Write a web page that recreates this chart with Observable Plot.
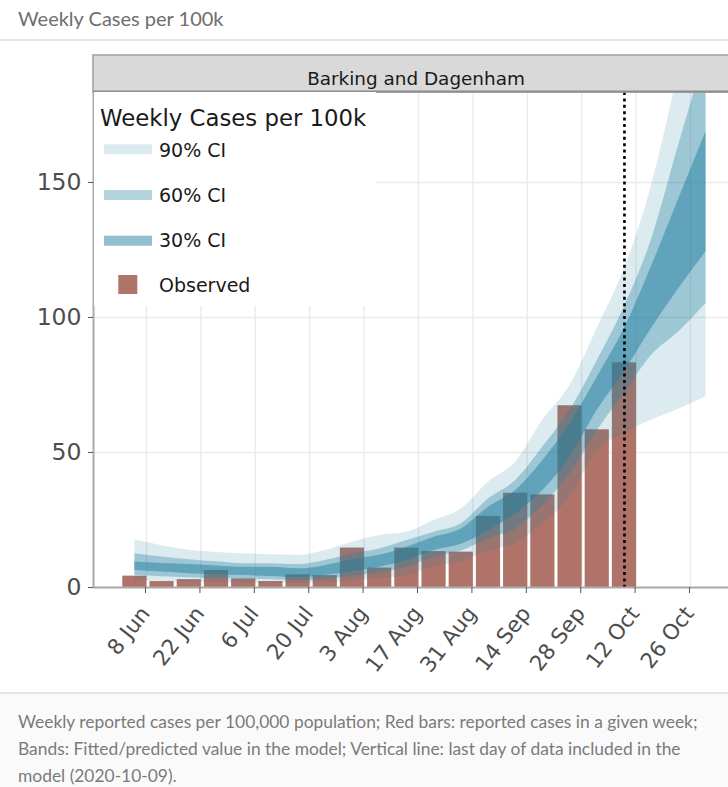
<!DOCTYPE html>
<html><head><meta charset="utf-8">
<script src="https://cdn.jsdelivr.net/npm/d3@7"></script>
<script src="https://cdn.jsdelivr.net/npm/@observablehq/plot@0.6"></script>
<style>
html,body{margin:0;padding:0;background:#fff;}
body{width:728px;height:787px;overflow:hidden;position:relative;}
#hdr{border-bottom:2px solid #e6e6e6;font-family:Lato,sans-serif;font-size:20px;color:#6e6e6e;padding-left:18px;line-height:36px;box-sizing:border-box;height:41px;}
#chart{height:651px;}
#chart svg{display:block;}
#cap{position:absolute;left:0;top:692px;width:728px;height:95px;box-sizing:border-box;border-top:2px solid #e6e6e6;background:#fafafa;font-family:Lato,sans-serif;font-size:17.4px;color:#7a7a7a;padding:15px 14px 0 18px;line-height:26.8px;}
</style></head><body>
<div id="hdr">Weekly Cases per 100k</div>
<div id="chart"></div>
<div id="cap">Weekly reported cases per 100,000 population; Red bars: reported cases in a given week; Bands: Fitted/predicted value in the model; Vertical line: last day of data included in the model (2020-10-09).</div>
<script>
// ---- data ----
const areaName = "Barking and Dagenham";
const barDates = ["2020-06-05","2020-06-12","2020-06-19","2020-06-26","2020-07-03","2020-07-10","2020-07-17","2020-07-24","2020-07-31","2020-08-07","2020-08-14","2020-08-21","2020-08-28","2020-09-04","2020-09-11","2020-09-18","2020-09-25","2020-10-02","2020-10-09"];
const observed = [4.2, 2.2, 2.9, 6.3, 3.2, 2.2, 4.7, 4.4, 14.6, 7.2, 14.6, 13.3, 13.1, 26.3, 34.9, 34.3, 67.3, 58.4, 83.2];

const bandDates = ["2020-06-05","2020-06-12","2020-06-19","2020-06-26","2020-07-03","2020-07-10","2020-07-17","2020-07-24","2020-07-31","2020-08-07","2020-08-14","2020-08-21","2020-08-28","2020-09-04","2020-09-11","2020-09-18","2020-09-25","2020-10-02","2020-10-09","2020-10-16","2020-10-23","2020-10-30"];
const hi90 = [17.7, 15.5, 13.8, 13.0, 12.5, 12.1, 11.9, 13.7, 16.8, 19.3, 20.5, 24.8, 29.1, 39.0, 46.4, 62.0, 74.8, 96.0, 118, 149, 192, 240];
const hi60 = [12.5, 11.3, 10.3, 9.5, 8.8, 8.8, 8.5, 10.0, 12.5, 14.3, 17.4, 20.5, 23.6, 32.8, 39.6, 52.0, 65.6, 84.0, 104, 129, 164, 198];
const hi30 = [9.4, 8.9, 8.5, 8.0, 7.5, 7.5, 6.9, 8.1, 10.3, 11.9, 14.9, 18.6, 21.7, 29.7, 35.9, 47.0, 60.6, 77.9, 96, 119, 144, 168.8];
const lo30 = [6.3, 5.7, 5.1, 4.7, 4.4, 4.1, 3.6, 4.4, 5.9, 7.5, 10.0, 13.7, 16.0, 21.0, 27.3, 35.9, 48.3, 65.6, 80, 96, 110.7, 124.3];
const lo60 = [4.5, 4.0, 3.6, 3.3, 3.1, 2.9, 2.6, 3.1, 4.2, 5.4, 7.5, 11.2, 13.5, 18.0, 21.7, 30.4, 42.1, 58.0, 72, 86, 94.7, 105.2];
const lo90 = [2.5, 2.2, 2.0, 1.8, 1.7, 1.6, 1.5, 1.8, 2.4, 3.2, 4.4, 7.5, 9.5, 13.5, 16.3, 23.6, 33.5, 50.7, 57, 62, 66, 70.6];

const tickDates = ["2020-06-08","2020-06-22","2020-07-06","2020-07-20","2020-08-03","2020-08-17","2020-08-31","2020-09-14","2020-09-28","2020-10-12","2020-10-26"];
const tickLabels = ["8 Jun","22 Jun","6 Jul","20 Jul","3 Aug","17 Aug","31 Aug","14 Sep","28 Sep","12 Oct","26 Oct"];
const yTicks = [0, 50, 100, 150];
const lastDataDay = "2020-10-09";

const ciLabels = ["90% CI", "60% CI", "30% CI"];
const ciOpacity = [0.16, 0.34, 0.5];
const bandColor = "#24809f";
const barColor = "#b07369";

// ---- build ----
const D = s => new Date(s + "T00:00:00Z");
const DAY = 864e5;
const bars = barDates.map((d, i) => ({x1: new Date(+D(d) - 3.5 * DAY), x2: new Date(+D(d) + 3.5 * DAY), y: observed[i]}));
const bands = bandDates.map((d, i) => ({date: D(d), hi90: hi90[i], hi60: hi60[i], hi30: hi30[i], lo30: lo30[i], lo60: lo60[i], lo90: lo90[i]}));
const ticks = tickDates.map(D);
const labelOf = new Map(ticks.map((t, i) => [+t, tickLabels[i]]));

const W = 728, H = 651, mL = 93, mR = 0, mT = 51, mB = 105;
const xDomain = [new Date(Date.UTC(2020, 4, 25, 8, 24)), new Date(Date.UTC(2020, 10, 4, 18, 43))];
const yMax = 183.3;
const FONT = "DejaVu Sans, Verdana, sans-serif";

const plot = Plot.plot({
  width: W, height: H,
  marginLeft: mL, marginRight: mR, marginTop: mT, marginBottom: mB,
  style: {background: "transparent", fontFamily: FONT},
  x: {type: "utc", domain: xDomain},
  y: {domain: [0, yMax]},
  marks: [
    Plot.gridY(yTicks.filter(d => d > 0), {stroke: "#ebebeb", strokeOpacity: 1, strokeWidth: 1.4}),
    Plot.gridX(ticks, {stroke: "#ebebeb", strokeOpacity: 1, strokeWidth: 1.4}),
    Plot.rectY(bars, {x1: "x1", x2: "x2", y: "y", fill: barColor, insetLeft: 1.5, insetRight: 1.5}),
    Plot.areaY(bands, {x: "date", y1: "lo90", y2: "hi90", fill: bandColor, fillOpacity: ciOpacity[0], curve: "monotone-x", clip: true}),
    Plot.areaY(bands, {x: "date", y1: "lo60", y2: "hi60", fill: bandColor, fillOpacity: ciOpacity[1], curve: "monotone-x", clip: true}),
    Plot.areaY(bands, {x: "date", y1: "lo30", y2: "hi30", fill: bandColor, fillOpacity: ciOpacity[2], curve: "monotone-x", clip: true}),
    Plot.ruleX([D(lastDataDay)], {stroke: "#000", strokeWidth: 2.6, strokeDasharray: "3,3.4"}),
    Plot.ruleY([0], {stroke: "#aaaaaa", strokeWidth: 2}),
    Plot.ruleX([xDomain[0]], {stroke: "#aaaaaa", strokeWidth: 2}),
    Plot.axisY({ticks: yTicks, tickSize: 5, tickPadding: 7, fontSize: 23.5, fill: "#4d4d4d", stroke: "#555", label: null}),
    Plot.axisX({ticks: ticks, tickFormat: d => labelOf.get(+d), tickRotate: -52, tickSize: 6, tickPadding: 6, fontSize: 21.5, dx: -1, fill: "#4d4d4d", stroke: "#555", label: null})
  ]
});
document.getElementById("chart").appendChild(plot);

// nudge rotated x tick labels down a little (layout only)
const xl = plot.querySelector('g[aria-label="x-axis tick label"]');
if (xl) xl.setAttribute("transform", "translate(0,10) " + (xl.getAttribute("transform") || ""));

// ---- facet strip & legend ----
const svg = d3.select(plot);
const strip = svg.append("g");
strip.append("rect").attr("x", mL).attr("y", 14).attr("width", W - mL + 5).attr("height", mT - 14)
  .attr("fill", "#d9d9d9").attr("stroke", "#a0a0a0").attr("stroke-width", 1.5);
strip.append("line").attr("x1", mL).attr("x2", W).attr("y1", mT - 0.5).attr("y2", mT - 0.5).attr("stroke", "#8c8c8c").attr("stroke-width", 2);
strip.append("text").attr("x", 416).attr("y", 44).attr("text-anchor", "middle")
  .attr("font-family", FONT).attr("font-size", 18.4).attr("fill", "#1a1a1a").text(areaName);

const lg = svg.append("g").attr("font-family", FONT).attr("text-anchor", "start");
lg.append("rect").attr("x", mL + 1).attr("y", mT).attr("width", 376 - mL - 1).attr("height", 306 - 41 - mT).attr("fill", "#fff");
lg.append("text").attr("x", 100).attr("y", 126 - 41).attr("font-size", 22.8).attr("fill", "#1a1a1a").text("Weekly Cases per 100k");
const rowY = [144.3, 190, 235.7];
const baseY = [156.5, 201.5, 247];
ciLabels.forEach((lab, i) => {
  lg.append("rect").attr("x", 104).attr("y", rowY[i] - 41).attr("width", 48).attr("height", 10)
    .attr("fill", bandColor).attr("fill-opacity", ciOpacity[i]);
  lg.append("text").attr("x", 159).attr("y", baseY[i] - 41).attr("font-size", 19).attr("fill", "#1a1a1a").text(lab);
});
lg.append("rect").attr("x", 118.3).attr("y", 275 - 41).attr("width", 19).attr("height", 19).attr("fill", barColor);
lg.append("text").attr("x", 159).attr("y", 292 - 41).attr("font-size", 19).attr("fill", "#1a1a1a").text("Observed");
</script>
</body></html>
